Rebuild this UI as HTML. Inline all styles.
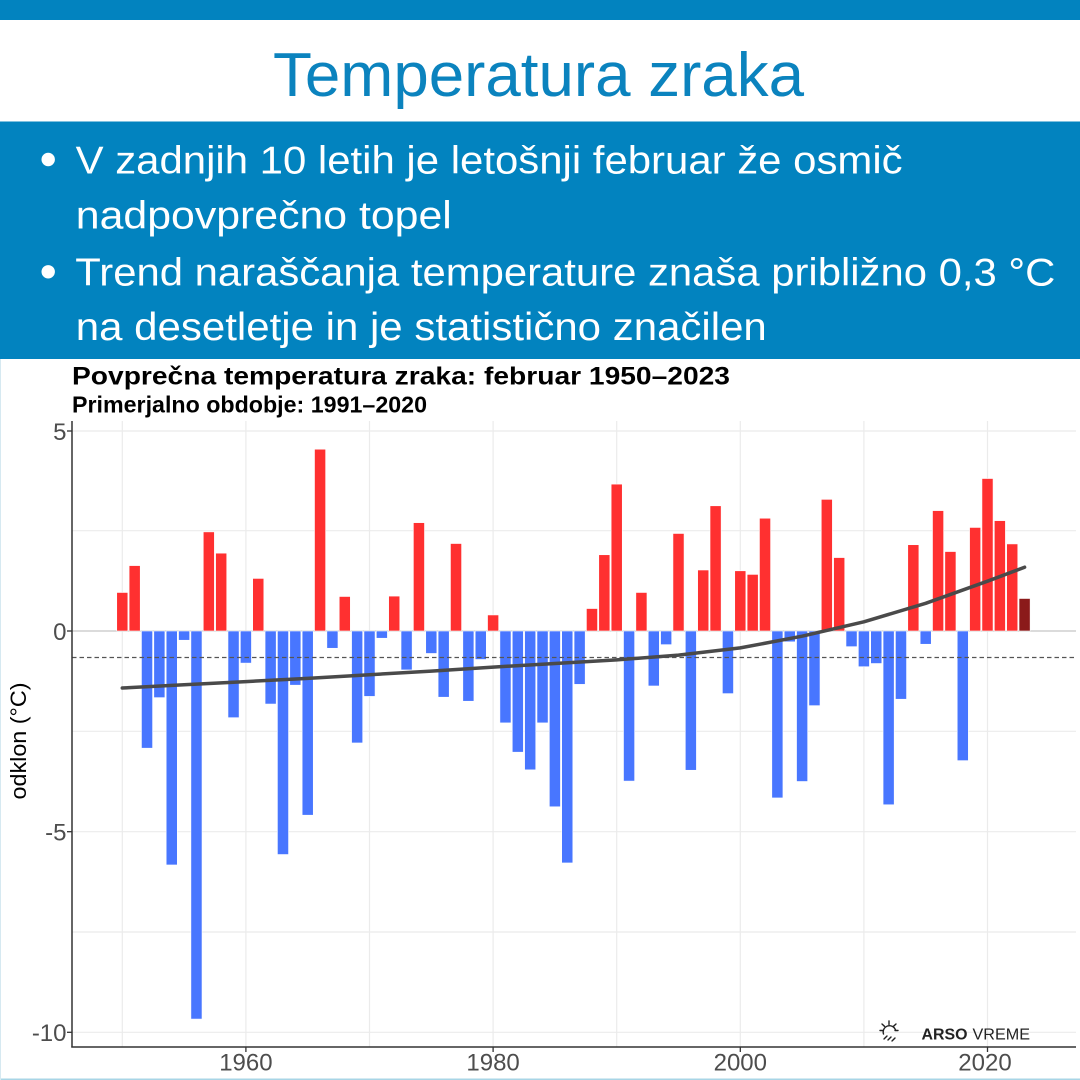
<!DOCTYPE html>
<html>
<head>
<meta charset="utf-8">
<style>
html,body{margin:0;padding:0;background:#fff;}
svg{display:block;}
</style>
</head>
<body>
<svg width="1080" height="1080" viewBox="0 0 1080 1080" xmlns="http://www.w3.org/2000/svg">
  <!-- header -->
  <rect x="0" y="0" width="1080" height="1080" fill="#ffffff"/>
  <rect x="0" y="0" width="1080" height="20" fill="#0283bf"/>
  <text x="273" y="96" font-family="'Liberation Sans', sans-serif" font-size="62" fill="#0b83be" textLength="531" lengthAdjust="spacingAndGlyphs">Temperatura zraka</text>
  <rect x="0" y="121.5" width="1080" height="237.5" fill="#0283bf"/>
  <g fill="#ffffff" font-family="'Liberation Sans', sans-serif" font-size="39">
    <circle cx="48.2" cy="159.5" r="6.7"/>
    <circle cx="48.2" cy="271.8" r="6.7"/>
    <text x="75.6" y="173.3" textLength="827" lengthAdjust="spacingAndGlyphs">V zadnjih 10 letih je letošnji februar že osmič</text>
    <text x="75.8" y="228.4" textLength="376" lengthAdjust="spacingAndGlyphs">nadpovprečno topel</text>
    <text x="75.3" y="285.7" textLength="980" lengthAdjust="spacingAndGlyphs">Trend naraščanja temperature znaša približno 0,3 °C</text>
    <text x="75.8" y="340.2" textLength="691" lengthAdjust="spacingAndGlyphs">na desetletje in je statistično značilen</text>
  </g>

  <!-- chart titles -->
  <text x="72" y="384.5" font-family="'Liberation Sans', sans-serif" font-weight="bold" font-size="25" fill="#000" textLength="658" lengthAdjust="spacingAndGlyphs">Povprečna temperatura zraka: februar 1950–2023</text>
  <text x="72" y="412.3" font-family="'Liberation Sans', sans-serif" font-weight="bold" font-size="23" fill="#000" textLength="355" lengthAdjust="spacingAndGlyphs">Primerjalno obdobje: 1991–2020</text>

  <!-- grid -->
  <g stroke="#ebebeb" stroke-width="1.2">
    <line x1="72" y1="431" x2="1076" y2="431"/>
    <line x1="72" y1="530.7" x2="1076" y2="530.7"/>
    <line x1="72" y1="731.3" x2="1076" y2="731.3"/>
    <line x1="72" y1="831.7" x2="1076" y2="831.7"/>
    <line x1="72" y1="932" x2="1076" y2="932"/>
    <line x1="72" y1="1032.3" x2="1076" y2="1032.3"/>
    <line x1="122.3" y1="421" x2="122.3" y2="1047"/>
    <line x1="245.9" y1="421" x2="245.9" y2="1047"/>
    <line x1="369.5" y1="421" x2="369.5" y2="1047"/>
    <line x1="493.1" y1="421" x2="493.1" y2="1047"/>
    <line x1="616.7" y1="421" x2="616.7" y2="1047"/>
    <line x1="740.3" y1="421" x2="740.3" y2="1047"/>
    <line x1="863.9" y1="421" x2="863.9" y2="1047"/>
    <line x1="987.5" y1="421" x2="987.5" y2="1047"/>
  </g>
  <line x1="72" y1="631" x2="1076" y2="631" stroke="#cfcfcf" stroke-width="1.6"/>

  <!-- bars -->
  <g stroke="#ffffff" stroke-width="0.6">
    <g fill="#ff3030">
      <rect x="116.74" y="592.48" width="11.12" height="38.52"/>
      <rect x="129.10" y="565.59" width="11.12" height="65.41"/>
      <rect x="203.26" y="531.88" width="11.12" height="99.12"/>
      <rect x="215.62" y="553.15" width="11.12" height="77.85"/>
      <rect x="252.70" y="578.43" width="11.12" height="52.57"/>
      <rect x="314.50" y="449.21" width="11.12" height="181.79"/>
      <rect x="339.22" y="596.49" width="11.12" height="34.51"/>
      <rect x="388.66" y="596.09" width="11.12" height="34.91"/>
      <rect x="413.38" y="522.65" width="11.12" height="108.35"/>
      <rect x="450.46" y="543.52" width="11.12" height="87.48"/>
      <rect x="487.54" y="614.95" width="11.12" height="16.05"/>
      <rect x="586.42" y="608.53" width="11.12" height="22.47"/>
      <rect x="598.78" y="554.75" width="11.12" height="76.25"/>
      <rect x="611.14" y="484.12" width="11.12" height="146.88"/>
      <rect x="635.86" y="592.48" width="11.12" height="38.52"/>
      <rect x="672.94" y="533.48" width="11.12" height="97.52"/>
      <rect x="697.66" y="570.00" width="11.12" height="61.00"/>
      <rect x="710.02" y="505.79" width="11.12" height="125.21"/>
      <rect x="734.74" y="570.80" width="11.12" height="60.20"/>
      <rect x="747.10" y="574.42" width="11.12" height="56.58"/>
      <rect x="759.46" y="518.23" width="11.12" height="112.77"/>
      <rect x="821.26" y="499.37" width="11.12" height="131.63"/>
      <rect x="833.62" y="557.56" width="11.12" height="73.44"/>
      <rect x="907.78" y="544.72" width="11.12" height="86.28"/>
      <rect x="932.50" y="510.61" width="11.12" height="120.39"/>
      <rect x="944.86" y="551.54" width="11.12" height="79.46"/>
      <rect x="969.58" y="527.46" width="11.12" height="103.54"/>
      <rect x="981.94" y="478.51" width="11.12" height="152.49"/>
      <rect x="994.30" y="520.64" width="11.12" height="110.36"/>
      <rect x="1006.66" y="543.92" width="11.12" height="87.08"/>
    </g>
    <rect x="1019.02" y="598.49" width="11.12" height="32.51" fill="#8b1a1a"/>
    <g fill="#4876ff">
      <rect x="141.46" y="631" width="11.12" height="117.18"/>
      <rect x="153.82" y="631" width="11.12" height="66.62"/>
      <rect x="166.18" y="631" width="11.12" height="233.96"/>
      <rect x="178.54" y="631" width="11.12" height="9.23"/>
      <rect x="190.90" y="631" width="11.12" height="388.06"/>
      <rect x="227.98" y="631" width="11.12" height="86.68"/>
      <rect x="240.34" y="631" width="11.12" height="32.10"/>
      <rect x="265.06" y="631" width="11.12" height="73.04"/>
      <rect x="277.42" y="631" width="11.12" height="223.52"/>
      <rect x="289.78" y="631" width="11.12" height="54.18"/>
      <rect x="302.14" y="631" width="11.12" height="184.20"/>
      <rect x="326.86" y="631" width="11.12" height="17.26"/>
      <rect x="351.58" y="631" width="11.12" height="111.96"/>
      <rect x="363.94" y="631" width="11.12" height="65.41"/>
      <rect x="376.30" y="631" width="11.12" height="7.22"/>
      <rect x="401.02" y="631" width="11.12" height="38.93"/>
      <rect x="425.74" y="631" width="11.12" height="22.47"/>
      <rect x="438.10" y="631" width="11.12" height="66.21"/>
      <rect x="462.82" y="631" width="11.12" height="70.23"/>
      <rect x="475.18" y="631" width="11.12" height="28.49"/>
      <rect x="499.90" y="631" width="11.12" height="91.90"/>
      <rect x="512.26" y="631" width="11.12" height="121.19"/>
      <rect x="524.62" y="631" width="11.12" height="138.85"/>
      <rect x="536.98" y="631" width="11.12" height="91.90"/>
      <rect x="549.34" y="631" width="11.12" height="175.77"/>
      <rect x="561.70" y="631" width="11.12" height="231.95"/>
      <rect x="574.06" y="631" width="11.12" height="53.37"/>
      <rect x="623.50" y="631" width="11.12" height="150.09"/>
      <rect x="648.22" y="631" width="11.12" height="54.98"/>
      <rect x="660.58" y="631" width="11.12" height="13.64"/>
      <rect x="685.30" y="631" width="11.12" height="139.25"/>
      <rect x="722.38" y="631" width="11.12" height="62.60"/>
      <rect x="771.82" y="631" width="11.12" height="166.94"/>
      <rect x="784.18" y="631" width="11.12" height="10.84"/>
      <rect x="796.54" y="631" width="11.12" height="150.49"/>
      <rect x="808.90" y="631" width="11.12" height="74.64"/>
      <rect x="845.98" y="631" width="11.12" height="15.65"/>
      <rect x="858.34" y="631" width="11.12" height="35.72"/>
      <rect x="870.70" y="631" width="11.12" height="32.51"/>
      <rect x="883.06" y="631" width="11.12" height="173.76"/>
      <rect x="895.42" y="631" width="11.12" height="68.22"/>
      <rect x="920.14" y="631" width="11.12" height="13.24"/>
      <rect x="957.22" y="631" width="11.12" height="129.62"/>
    </g>
  </g>

  <!-- reference dashed line -->
  <line x1="72" y1="657.5" x2="1076" y2="657.5" stroke="#555" stroke-width="1.2" stroke-dasharray="4.5,3"/>

  <!-- trend -->
  <polyline fill="none" stroke="#4a4a4a" stroke-width="3.5" stroke-linejoin="round" stroke-linecap="round"
    points="122.3,688.0 184.1,684.8 245.9,681.6 307.7,678.4 369.5,674.7 431.3,671.1 493.1,667.1 554.9,663.5 616.7,659.9 678.5,655.1 740.3,647.9 802.1,636.2 863.9,621.8 925.7,603.3 987.5,581.2 1024.6,567.2"/>

  <!-- axes -->
  <line x1="72" y1="421" x2="72" y2="1047.5" stroke="#333" stroke-width="1.5"/>
  <line x1="71.3" y1="1047" x2="1076" y2="1047" stroke="#333" stroke-width="1.5"/>
  <g stroke="#333" stroke-width="1.3">
    <line x1="67" y1="431" x2="72" y2="431"/>
    <line x1="67" y1="631" x2="72" y2="631"/>
    <line x1="67" y1="831.7" x2="72" y2="831.7"/>
    <line x1="67" y1="1032.3" x2="72" y2="1032.3"/>
    <line x1="245.9" y1="1047" x2="245.9" y2="1052"/>
    <line x1="493.1" y1="1047" x2="493.1" y2="1052"/>
    <line x1="740.3" y1="1047" x2="740.3" y2="1052"/>
    <line x1="987.5" y1="1047" x2="987.5" y2="1052"/>
  </g>
  <g font-family="'Liberation Sans', sans-serif" font-size="24" fill="#4d4d4d" text-anchor="end">
    <text x="66.5" y="440">5</text>
    <text x="66.5" y="640">0</text>
    <text x="66.5" y="840.5">-5</text>
    <text x="66.5" y="1041">-10</text>
  </g>
  <g font-family="'Liberation Sans', sans-serif" font-size="24" fill="#4d4d4d" text-anchor="middle">
    <text x="245.9" y="1070.5">1960</text>
    <text x="493.1" y="1070.5">1980</text>
    <text x="740.3" y="1070.5">2000</text>
    <text x="985" y="1070.5">2020</text>
  </g>
  <text transform="translate(26,741) rotate(-90)" font-family="'Liberation Sans', sans-serif" font-size="22" fill="#000" text-anchor="middle" textLength="117" lengthAdjust="spacingAndGlyphs">odklon (°C)</text>

  <!-- logo -->
  <g stroke="#222" stroke-width="1.4" fill="none" stroke-linecap="round">
    <path d="M883.5,1034 A6,6 0 0 1 895.5,1030"/>
    <line x1="889" y1="1021" x2="889" y2="1024.5"/>
    <line x1="882" y1="1024" x2="884.5" y2="1026.3"/>
    <line x1="896" y1="1024" x2="893.5" y2="1026.3"/>
    <line x1="880" y1="1030.5" x2="883" y2="1030.5"/>
    <line x1="895" y1="1030.5" x2="898" y2="1030.5"/>
    <line x1="884" y1="1039" x2="887" y2="1036"/>
    <line x1="888" y1="1040" x2="891" y2="1037"/>
    <line x1="892" y1="1041" x2="895" y2="1038"/>
  </g>
  <text x="921.5" y="1039.3" font-family="'Liberation Sans', sans-serif" font-size="16" font-weight="bold" fill="#222" textLength="46" lengthAdjust="spacingAndGlyphs">ARSO</text>
  <text x="972.5" y="1039.3" font-family="'Liberation Sans', sans-serif" font-size="16" fill="#222" textLength="57.5" lengthAdjust="spacingAndGlyphs">VREME</text>

  <!-- faint borders -->
  <line x1="0" y1="1079.3" x2="1080" y2="1079.3" stroke="#a8d5e6" stroke-width="1.5"/>
  <line x1="0.5" y1="359" x2="0.5" y2="1080" stroke="#d6e9f1" stroke-width="1"/>
</svg>
</body>
</html>
